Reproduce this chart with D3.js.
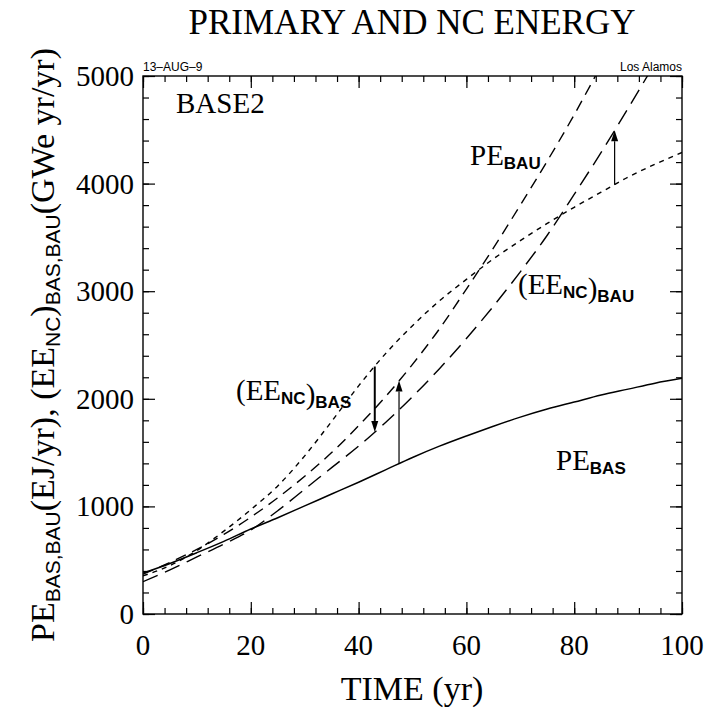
<!DOCTYPE html>
<html>
<head>
<meta charset="utf-8">
<script src="https://cdn.jsdelivr.net/npm/d3@7"></script>
<style>
  html, body { margin: 0; padding: 0; background: #fff; }
  svg { display: block; }
</style>
</head>
<body>
<svg id="chart" width="705" height="711"></svg>
<script>
// ---------------- data ----------------
const years    = [0, 5, 10, 15, 20, 25, 30, 35, 40, 45, 50, 55, 60, 65, 70, 75, 80, 85, 90, 95, 100];
const peBas    = [380, 470, 570, 675, 790, 895, 1005, 1115, 1225, 1340, 1455, 1560, 1655, 1745, 1830, 1905, 1970, 2035, 2090, 2145, 2190];
const peBau    = [370, 480, 600, 740, 900, 1080, 1280, 1500, 1750, 2020, 2320, 2650, 3020, 3400, 3800, 4210, 4640, 5100, null, null, null];
const eeNcBas  = [355, 450, 590, 770, 970, 1190, 1470, 1790, 2120, 2420, 2680, 2910, 3110, 3300, 3470, 3630, 3780, 3920, 4060, 4180, 4290];
const eeNcBau  = [300, 410, 530, 650, 780, 960, 1160, 1360, 1560, 1780, 2020, 2280, 2560, 2860, 3180, 3520, 3900, 4290, 4700, 5120, null];

const xTicks = [0, 20, 40, 60, 80, 100];
const yTicks = [0, 1000, 2000, 3000, 4000, 5000];

// arrows: [year, fromSeries, toSeries]
const arrowYears = [43, 47.5, 87.5];
const arrowFrom  = ["eeNcBas", "peBas", "eeNcBas"];
const arrowTo    = ["eeNcBau", "peBau", "eeNcBau"];

const seriesMap = { peBas, peBau, eeNcBas, eeNcBau };

// ---------------- layout ----------------
const W = 705, H = 711;
const margin = { left: 143, right: 23, top: 76, bottom: 97 };
const iw = W - margin.left - margin.right;
const ih = H - margin.top - margin.bottom;

const svg = d3.select("#chart");
const serif = "'Liberation Serif', 'Times New Roman', serif";
const sans = "'Liberation Sans', 'DejaVu Sans', Arial, sans-serif";

const x = d3.scaleLinear().domain([0, 100]).range([margin.left, margin.left + iw]);
const y = d3.scaleLinear().domain([0, 5000]).range([margin.top + ih, margin.top]);

svg.append("defs").append("clipPath").attr("id", "clip")
  .append("rect").attr("x", margin.left).attr("y", margin.top).attr("width", iw).attr("height", ih);

// ---------------- axes / frame ----------------
const majorLen = 12, minorLen = 6;
const g = svg.append("g").attr("stroke", "#000").attr("fill", "none");

function ticks(axisFn, scale, vals, len, tr) {
  g.append("g").attr("transform", tr)
    .call(axisFn(scale).tickValues(vals).tickSize(len).tickFormat(""))
    .call(s => s.select(".domain").remove());
}
const xMinor = d3.range(0, 101, 4), yMinor = d3.range(0, 5001, 200);
ticks(d3.axisTop, x, xMinor, minorLen, `translate(0,${margin.top + ih})`);
ticks(d3.axisTop, x, xTicks, majorLen, `translate(0,${margin.top + ih})`);
ticks(d3.axisBottom, x, xMinor, minorLen, `translate(0,${margin.top})`);
ticks(d3.axisBottom, x, xTicks, majorLen, `translate(0,${margin.top})`);
ticks(d3.axisRight, y, yMinor, minorLen, `translate(${margin.left},0)`);
ticks(d3.axisRight, y, yTicks, majorLen, `translate(${margin.left},0)`);
ticks(d3.axisLeft, y, yMinor, minorLen, `translate(${margin.left + iw},0)`);
ticks(d3.axisLeft, y, yTicks, majorLen, `translate(${margin.left + iw},0)`);
svg.selectAll(".tick line").attr("stroke", "#000").attr("stroke-width", 1.2);

svg.append("rect").attr("x", margin.left).attr("y", margin.top)
  .attr("width", iw).attr("height", ih)
  .attr("fill", "none").attr("stroke", "#000").attr("stroke-width", 1.4);

// tick labels
svg.append("g").selectAll("text").data(xTicks).join("text")
  .attr("x", d => x(d)).attr("y", margin.top + ih + 41)
  .attr("text-anchor", "middle").attr("font-family", serif).attr("font-size", 29)
  .text(d => d);
svg.append("g").selectAll("text").data(yTicks).join("text")
  .attr("x", margin.left - 9).attr("y", d => y(d) + 10)
  .attr("text-anchor", "end").attr("font-family", serif).attr("font-size", 29)
  .text(d => d);

// ---------------- titles ----------------
svg.append("text").attr("x", 412).attr("y", 34).attr("text-anchor", "middle")
  .attr("font-family", serif).attr("font-size", 35).text("PRIMARY AND NC ENERGY");
svg.append("text").attr("x", margin.left).attr("y", margin.top - 5)
  .attr("font-family", sans).attr("font-size", 12).text("13\u2013AUG\u20139");
svg.append("text").attr("x", margin.left + iw).attr("y", margin.top - 5).attr("text-anchor", "end")
  .attr("font-family", sans).attr("font-size", 12).text("Los Alamos");
svg.append("text").attr("x", 412).attr("y", 700).attr("text-anchor", "middle")
  .attr("font-family", serif).attr("font-size", 34).text("TIME (yr)");

// y-axis label with subscripts
const yl = svg.append("text").attr("transform", `translate(54,${margin.top + ih / 2}) rotate(-90)`)
  .attr("text-anchor", "middle").attr("font-family", serif).attr("font-size", 34);
yl.append("tspan").text("PE");
yl.append("tspan").attr("font-family", sans).attr("font-size", 21).attr("dy", 6).text("BAS,BAU");
yl.append("tspan").attr("dy", -6).text("(EJ/yr), (EE");
yl.append("tspan").attr("font-family", sans).attr("font-size", 21).attr("dy", 6).text("NC");
yl.append("tspan").attr("dy", -6).text(")");
yl.append("tspan").attr("font-family", sans).attr("font-size", 21).attr("dy", 6).text("BAS,BAU");
yl.append("tspan").attr("dy", -6).text("(GWe yr/yr)");

// ---------------- curves ----------------
const line = vals => d3.line()
  .defined((d, i) => vals[i] != null)
  .x((d, i) => x(years[i])).y((d, i) => y(vals[i]))
  .curve(d3.curveMonotoneX)(years);

const curves = svg.append("g").attr("clip-path", "url(#clip)").attr("fill", "none").attr("stroke", "#000");
curves.append("path").attr("d", line(peBas)).attr("stroke-width", 1.5);
curves.append("path").attr("d", line(peBau)).attr("stroke-width", 1.4).attr("stroke-dasharray", "11,7");
curves.append("path").attr("d", line(eeNcBas)).attr("stroke-width", 1.4).attr("stroke-dasharray", "5,5");
curves.append("path").attr("d", line(eeNcBau)).attr("stroke-width", 1.4).attr("stroke-dasharray", "16,8");

// ---------------- arrows ----------------
function valAt(vals, t) {
  for (let i = 0; i < years.length - 1; i++) {
    if (t >= years[i] && t <= years[i + 1]) {
      const f = (t - years[i]) / (years[i + 1] - years[i]);
      return vals[i] + f * (vals[i + 1] - vals[i]);
    }
  }
  return vals[vals.length - 1];
}
const ag = svg.append("g");
arrowYears.forEach((t, k) => {
  const y0 = y(valAt(seriesMap[arrowFrom[k]], t));
  const y1 = y(valAt(seriesMap[arrowTo[k]], t));
  const xx = x(t);
  const dir = y1 > y0 ? 1 : -1;
  const headLen = 11, headW = 3.5;
  ag.append("line").attr("x1", xx).attr("x2", xx).attr("y1", y0).attr("y2", y1 - dir * headLen)
    .attr("stroke", "#000").attr("stroke-width", k === 0 ? 2 : 1.2);
  ag.append("path")
    .attr("d", `M${xx},${y1} L${xx - headW},${y1 - dir * headLen} L${xx + headW},${y1 - dir * headLen} Z`)
    .attr("fill", "#000");
});

// ---------------- curve labels ----------------
function label(parts, px, py) {
  const t = svg.append("text").attr("x", px).attr("y", py).attr("font-family", serif).attr("font-size", 29);
  parts.forEach(p => {
    if (p.sub) {
      t.append("tspan").attr("font-family", sans).attr("font-weight", "bold").attr("font-size", 17).attr("dy", 4).text(p.s);
      t.append("tspan").attr("dy", -4).text("");
    } else {
      t.append("tspan").text(p.s);
    }
  });
}
svg.append("text").attr("x", 176).attr("y", 113).attr("font-family", serif).attr("font-size", 29).text("BASE2");
label([{ s: "PE" }, { s: "BAU", sub: true }], 470, 165);
label([{ s: "(EE" }, { s: "NC", sub: true }, { s: ")" }, { s: "BAU", sub: true }], 518, 294);
label([{ s: "(EE" }, { s: "NC", sub: true }, { s: ")" }, { s: "BAS", sub: true }], 236, 400);
label([{ s: "PE" }, { s: "BAS", sub: true }], 556, 470);
</script>
</body>
</html>
